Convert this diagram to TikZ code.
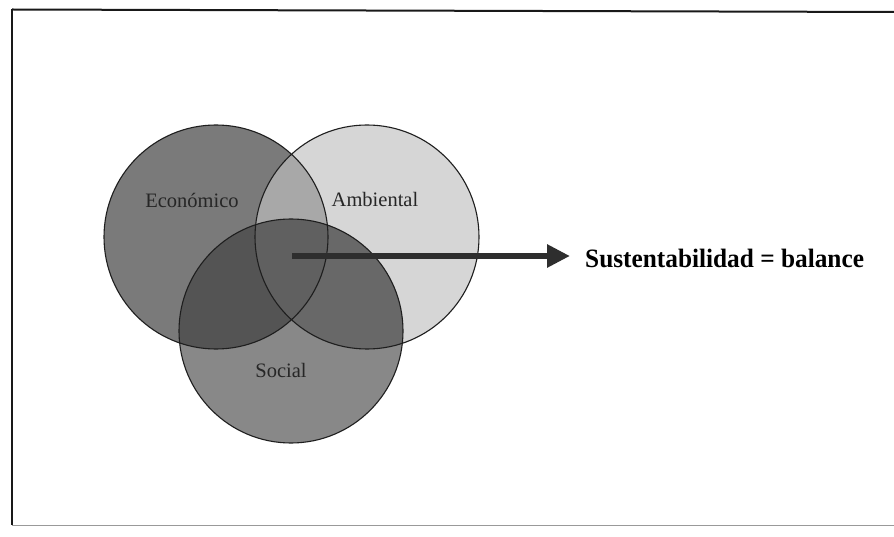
\documentclass[tikz,border=0pt]{standalone}
\usepackage{fontspec}
\setmainfont{Liberation Serif}
\usetikzlibrary{arrows.meta}
\definecolor{econ}{RGB}{122,122,122}
\definecolor{amb}{RGB}{214,214,214}
\definecolor{soc}{RGB}{136,136,136}
\definecolor{ea}{RGB}{168,168,168}
\definecolor{es}{RGB}{84,84,84}
\definecolor{as}{RGB}{104,104,104}
\definecolor{eas}{RGB}{96,96,96}
\definecolor{edge}{RGB}{30,30,30}
\tikzset{
  setlabel/.style={font=\fontsize{20.5}{22}\selectfont, text=black!85, inner sep=0pt},
  ring/.style={draw=edge, line width=1.1pt},
  frameline/.style={line width=2pt, draw=black!90},
}
\begin{document}
\begin{tikzpicture}[x=1pt,y=-1pt]
\useasboundingbox (0,0) rectangle (894,537);
\fill[white] (0,0) rectangle (894,537);
% frame
\draw[frameline] (12,9.5) -- (894,12);
\draw[frameline] (12,9.5) -- (12,525);
\draw[line width=1pt, draw=black!40] (12,525) -- (894,525);
% centers
\coordinate (E) at (216,237);
\coordinate (A) at (367,237);
\coordinate (S) at (291,331);
% base fills
\fill[econ] (E) circle[radius=112pt];
\fill[amb] (A) circle[radius=112pt];
\fill[soc] (S) circle[radius=112pt];
% pairwise overlaps
\begin{scope}
  \clip (E) circle[radius=112pt];
  \fill[ea] (A) circle[radius=112pt];
  \fill[es] (S) circle[radius=112pt];
\end{scope}
\begin{scope}
  \clip (A) circle[radius=112pt];
  \fill[as] (S) circle[radius=112pt];
  \clip (E) circle[radius=112pt];
  \fill[eas] (S) circle[radius=112pt];
\end{scope}
% outlines
\draw[ring] (E) circle[radius=112pt];
\draw[ring] (A) circle[radius=112pt];
\draw[ring] (S) circle[radius=112pt];
% labels
\node[setlabel] (le) at (192,200) {Económico};
\node[setlabel] (la) at (375,199) {Ambiental};
\node[setlabel] (ls) at (281,370) {Social};
% arrow and result
\coordinate (start) at (292,256);
\node[anchor=west, inner sep=0pt, font=\bfseries\fontsize{26.5}{28}\selectfont, xscale=0.955] (res) at (585,258) {Sustentabilidad = balance};
\draw[line width=6pt, draw=black!82, -{Triangle[length=23pt,width=22pt]}, shorten >=15pt] (start) -- (res.west |- start);
\end{tikzpicture}
\end{document}
